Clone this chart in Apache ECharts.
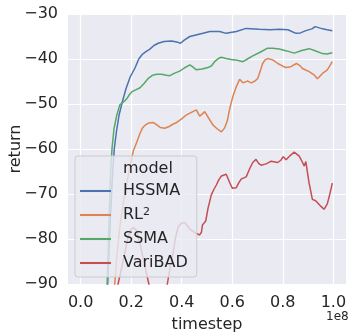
<!DOCTYPE html>
<html>
<head>
<meta charset="utf-8">
<script src="https://cdn.jsdelivr.net/npm/echarts@6/dist/echarts.min.js"></script>
<style>
html, body { margin: 0; padding: 0; background: #fff; }
#chart { width: 353px; height: 335px; }
</style>
</head>
<body>
<div id="chart"></div>
<script>
// timestep in units of 1e8, return values
var xTicks = [0, 0.2, 0.4, 0.6, 0.8, 1.0];
var yTicks = [-90, -80, -70, -60, -50, -40, -30];

var hssma = [[0.095,-100],[0.107,-90],[0.118,-75],[0.126,-66],[0.133,-60],[0.142,-56],[0.152,-52.5],[0.165,-49.5],[0.18,-46.5],[0.196,-44],[0.215,-42],[0.23,-40],[0.245,-38.9],[0.26,-38.3],[0.274,-37.8],[0.29,-37],[0.307,-36.5],[0.33,-36.1],[0.36,-36],[0.38,-36.2],[0.395,-36.5],[0.41,-35.8],[0.432,-35],[0.46,-34.6],[0.484,-34.3],[0.511,-33.9],[0.55,-33.9],[0.576,-34.3],[0.616,-33.9],[0.655,-33.2],[0.707,-33.4],[0.75,-33.5],[0.786,-33.4],[0.82,-33.5],[0.852,-34.3],[0.87,-34.2],[0.891,-33.7],[0.915,-33.3],[0.928,-32.8],[0.957,-33.3],[0.975,-33.5],[0.996,-33.7]];

var rl2 = [[0.125,-100],[0.135,-90],[0.142,-84.7],[0.155,-77.3],[0.175,-69.8],[0.195,-64],[0.208,-60.5],[0.222,-58.5],[0.235,-56.5],[0.245,-55.3],[0.255,-54.7],[0.27,-54.2],[0.287,-54.1],[0.3,-54.6],[0.315,-55.2],[0.333,-55.4],[0.35,-55],[0.365,-54.5],[0.38,-54.1],[0.4,-53.3],[0.419,-52.4],[0.44,-51.8],[0.458,-51.3],[0.471,-52.7],[0.482,-52.2],[0.491,-51.7],[0.505,-53],[0.524,-54.7],[0.54,-55.5],[0.557,-56.2],[0.57,-55.3],[0.58,-53.8],[0.59,-51],[0.602,-48.4],[0.615,-46.3],[0.629,-44.5],[0.642,-45.3],[0.661,-44.9],[0.675,-45.3],[0.69,-44.9],[0.701,-44.3],[0.71,-42.8],[0.72,-41],[0.73,-40.2],[0.74,-39.9],[0.76,-40.2],[0.78,-41],[0.8,-41.6],[0.813,-41.9],[0.832,-41.7],[0.854,-41],[0.866,-41.4],[0.878,-42.1],[0.904,-42.8],[0.925,-43.6],[0.937,-44.4],[0.957,-43.2],[0.976,-42.4],[0.996,-40.6]];

var ssma = [[0.095,-100],[0.105,-90],[0.113,-75],[0.118,-66],[0.124,-60],[0.132,-55.5],[0.143,-52.5],[0.155,-50.2],[0.163,-49.8],[0.175,-49.3],[0.183,-48.8],[0.192,-48],[0.202,-47.3],[0.22,-46.8],[0.235,-46.4],[0.25,-45.5],[0.268,-44.3],[0.285,-43.6],[0.301,-43.4],[0.32,-43.4],[0.34,-43.6],[0.353,-43.7],[0.37,-43.2],[0.392,-42.7],[0.41,-42],[0.432,-41.3],[0.445,-41.8],[0.458,-42.4],[0.48,-42.2],[0.504,-41.9],[0.518,-41.5],[0.53,-40.6],[0.545,-39.9],[0.557,-39.6],[0.575,-39.9],[0.596,-40.1],[0.62,-40.3],[0.642,-40.6],[0.66,-40],[0.681,-39.3],[0.71,-38.5],[0.74,-37.6],[0.76,-37.6],[0.786,-37.8],[0.815,-38.2],[0.845,-38.7],[0.875,-38.1],[0.904,-37.7],[0.925,-38.1],[0.957,-38.8],[0.975,-38.9],[0.996,-38.6]];

var varibad = [[0.138,-100],[0.148,-90],[0.162,-86.5],[0.175,-83],[0.188,-79.5],[0.2,-77.8],[0.21,-77.5],[0.22,-78],[0.235,-81],[0.248,-84.5],[0.26,-87.5],[0.27,-90],[0.29,-97],[0.33,-95],[0.343,-90],[0.355,-86],[0.366,-83],[0.376,-79.5],[0.386,-77.3],[0.399,-76.5],[0.406,-76.8],[0.412,-76.3],[0.419,-76.4],[0.432,-77.8],[0.452,-78.6],[0.471,-79.1],[0.478,-78.5],[0.482,-76.9],[0.495,-76],[0.504,-73.2],[0.517,-70.2],[0.527,-69],[0.537,-68],[0.547,-66.8],[0.557,-66],[0.576,-65.6],[0.59,-67.5],[0.6,-68.7],[0.616,-68.6],[0.625,-67.6],[0.635,-66.7],[0.655,-66.2],[0.668,-64.5],[0.681,-63],[0.694,-62.3],[0.704,-63.2],[0.714,-63.6],[0.734,-63.3],[0.754,-62.7],[0.78,-63],[0.792,-62.5],[0.802,-61.7],[0.813,-62.4],[0.83,-61.4],[0.845,-60.7],[0.865,-61.6],[0.878,-63],[0.885,-63.8],[0.891,-62.8],[0.904,-67.6],[0.917,-71.2],[0.93,-71.5],[0.95,-72.7],[0.963,-73.4],[0.976,-72.2],[0.986,-70],[0.996,-67.6]];

var seriesNames = ['HSSMA', 'RL2', 'SSMA', 'VariBAD'];
var seriesData = [hssma, rl2, ssma, varibad];
var colors = ['#4C72B0', '#DD8452', '#55A868', '#C44E52'];

var textColor = '#262626';
var font = 'DejaVu Sans';

function minus(v) {
	return (v < 0 ? '\u2212' : '') + Math.abs(v);
}

var myChart = echarts.init(document.getElementById('chart'));

var series = [];
for (var i = 0; i < seriesNames.length; i++) {
	series.push({
		name: seriesNames[i],
		type: 'line',
		data: seriesData[i],
		showSymbol: false,
		symbol: 'none',
		clip: true,
		lineStyle: { color: colors[i], width: 1.5 },
		itemStyle: { color: colors[i] }
	});
}

var option = {
	animation: false,
	backgroundColor: '#ffffff',
	textStyle: { fontFamily: font },
	grid: { left: 68, right: 7, top: 14, bottom: 51, outerBoundsMode: 'none', containLabel: false,
		show: true, backgroundColor: '#EAEAF2', borderWidth: 0 },
	title: {
		text: 'model', left: 123, top: 161, padding: 0,
		textStyle: { fontFamily: font, fontSize: 16, fontWeight: 'normal', color: textColor }
	},
	legend: {
		orient: 'vertical', left: 75, top: 156,
		padding: [27, 9, 6, 5],
		itemGap: 8, itemWidth: 31, itemHeight: 16,
		icon: 'path://M0,0H30V2H0Z',
		backgroundColor: 'rgba(234,234,242,0.8)',
		borderColor: '#cccccc', borderWidth: 1, borderRadius: 3,
		formatter: function (name) {
			return name === 'RL2' ? '{n|RL}{sup|2}' : name;
		},
		textStyle: {
			fontFamily: font, fontSize: 16, color: textColor, padding: [0, 0, 0, 7],
			rich: {
				n: { fontFamily: font, fontSize: 16, color: textColor },
				sup: { fontFamily: font, fontSize: 11, color: textColor, verticalAlign: 'top', lineHeight: 11 }
			}
		},
		data: seriesNames
	},
	xAxis: {
		type: 'value', min: -0.05, max: 1.05,
		name: 'timestep', nameLocation: 'middle', nameGap: 33, nameMoveOverlap: false,
		nameTextStyle: { fontFamily: font, fontSize: 16, color: textColor },
		axisLine: { show: false }, axisTick: { show: false, customValues: xTicks },
		axisLabel: { customValues: xTicks, margin: 11, fontFamily: font, fontSize: 16, color: textColor,
			formatter: function (v) { return v.toFixed(1); } },
		splitLine: { show: true, lineStyle: { color: '#ffffff', width: 1.2 } }
	},
	yAxis: {
		type: 'value', min: yTicks[0], max: yTicks[yTicks.length - 1], interval: 10,
		name: 'return', nameLocation: 'middle', nameRotate: 90, nameGap: 44, nameMoveOverlap: false,
		nameTextStyle: { fontFamily: font, fontSize: 16, color: textColor },
		axisLine: { show: false }, axisTick: { show: false },
		axisLabel: { margin: 10, fontFamily: font, fontSize: 16, color: textColor, formatter: minus },
		splitLine: { show: true, lineStyle: { color: '#ffffff', width: 1.2 } }
	},
	graphic: [{
		type: 'text', left: 326, top: 311,
		style: { text: '1e8', fontFamily: font, fontSize: 12, fill: textColor }
	}],
	series: series
};

myChart.setOption(option);
</script>
</body>
</html>
